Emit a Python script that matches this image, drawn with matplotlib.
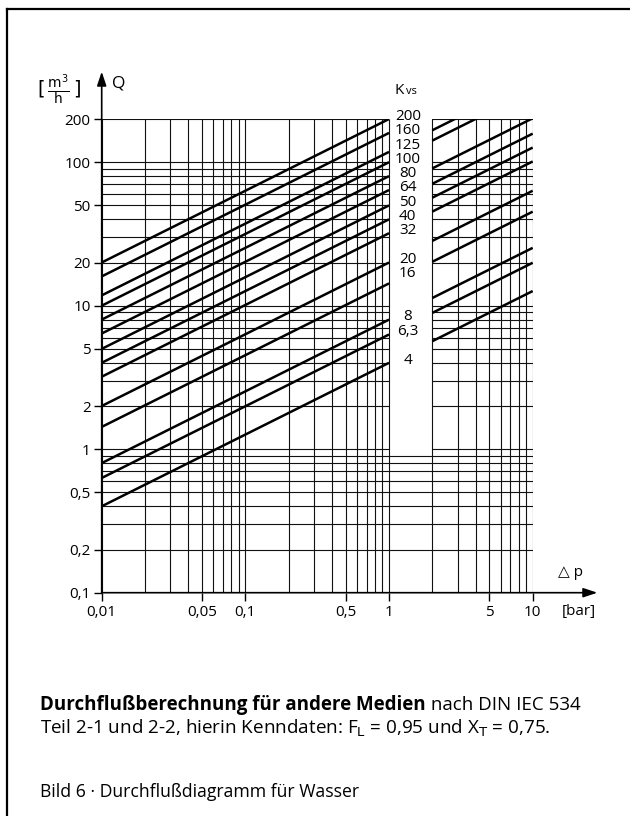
import numpy as np
import matplotlib
matplotlib.use("Agg")
import matplotlib.pyplot as plt
from matplotlib.patches import Rectangle
from matplotlib.lines import Line2D

plt.rcParams['font.family'] = ['Open Sans', 'DejaVu Sans']

# Kvs-Kennlinien (Q = Kvs * sqrt(dp)), Beschriftung und gezeichneter Wert
kvs_labels = ["200", "160", "125", "100", "80", "64", "50", "40", "32", "20", "16", "8", "6,3", "4"]
kvs_nominal = [200, 160, 125, 100, 80, 64, 50, 40, 32, 20, 16, 8, 6.3, 4]
kvs_left = [200, 160, 118, 100, 80, 64, 50, 40, 32, 20, 14.3, 8, 6.3, 4]
kvs_right = [118, 100, 64, 50, 40, 32, 20, 14.3, 8, 6.3, 4]
dp_left = [0.01, 1]
dp_right = [2, 10]

x_ticks = [0.01, 0.05, 0.1, 0.5, 1, 5, 10]
x_ticklabels = ["0,01", "0,05", "0,1", "0,5", "1", "5", "10"]
y_ticks = [0.1, 0.2, 0.5, 1, 2, 5, 10, 20, 50, 100, 200]
y_ticklabels = ["0,1", "0,2", "0,5", "1", "2", "5", "10", "20", "50", "100", "200"]

fig = plt.figure(figsize=(6.3, 8.16), dpi=100)
ax = fig.add_axes([101.7 / 630, 1 - 592.7 / 816, 431 / 630, 473.7 / 816])
ax.set_xscale("log")
ax.set_yscale("log")
ax.set_xlim(0.01, 10)
ax.set_ylim(0.1, 200)
for s in ax.spines.values():
    s.set_visible(False)

# Raster
xgrid = [m * 10.0**e for e in (-2, -1, 0) for m in range(1, 10)] + [10]
ygrid = [m * 10.0**e for e in (-1, 0, 1) for m in range(1, 10)] + [100, 200]
ax.hlines(ygrid, 0.01, 10, color="#111111", lw=0.8, zorder=1)
ax.add_patch(Rectangle((1, 0.92), 1, 210, facecolor="white", edgecolor="none",
                       zorder=2, clip_on=False))
ax.vlines(xgrid, 0.1, 200, color="#111111", lw=0.8, zorder=3)

# Kennlinien
for k in kvs_left:
    dp = np.array(dp_left)
    ax.plot(dp, k * np.sqrt(dp), color="black", lw=1.8, zorder=4,
            solid_capstyle="butt")
for k in kvs_right:
    dp = np.array(dp_right)
    ax.plot(dp, k * np.sqrt(dp), color="black", lw=1.8, zorder=4,
            solid_capstyle="butt")

for lab, k in zip(kvs_labels, kvs_nominal):
    ax.annotate(lab, xy=(1.35, k), xytext=(0, 2), textcoords="offset points",
                ha="center", va="center", fontsize=11, zorder=5)

# Achsen
ax.set_xticks(x_ticks)
ax.set_xticklabels(x_ticklabels)
ax.set_yticks(y_ticks)
ax.set_yticklabels(y_ticklabels)
ax.minorticks_off()
ax.tick_params(axis="both", length=6, width=1, color="black", labelsize=11, pad=2)
ax.tick_params(axis="x", pad=3)

ax.annotate("", xy=(0, 1.10), xytext=(0, 0), xycoords="axes fraction",
            arrowprops=dict(arrowstyle="-|>,head_length=0.6,head_width=0.2", lw=1.2,
                            color="black", mutation_scale=14, shrinkA=0, shrinkB=0))
ax.annotate("", xy=(1.15, 0), xytext=(0, 0), xycoords="axes fraction",
            arrowprops=dict(arrowstyle="-|>,head_length=0.6,head_width=0.2", lw=1.2,
                            color="black", mutation_scale=14, shrinkA=0, shrinkB=0))

fig.text(112 / 630, 1 - 84 / 816, "Q", fontsize=12.5, va="center", ha="left")
fig.text(59 / 630, 1 - 90 / 816, r"$[\,\frac{\mathrm{m^3}}{\mathrm{h}}\,]$",
         fontsize=14, va="center", ha="center")
fig.text(395 / 630, 1 - 90 / 816, r"K", fontsize=11, va="center", ha="left")
fig.text(406 / 630, 1 - 92 / 816, r"vs", fontsize=8, va="center", ha="left")
fig.text(558 / 630, 1 - 573 / 816, "\u25b3 p", fontsize=11, va="center", ha="left")
fig.text(562 / 630, 1 - 612 / 816, "[bar]", fontsize=11, va="center", ha="left")

# Rahmen
fig.add_artist(Line2D([7 / 630, 7 / 630], [0, 1 - 9 / 816], color="black", lw=1.6))
fig.add_artist(Line2D([7 / 630, 1], [1 - 9 / 816, 1 - 9 / 816], color="black", lw=1.6))

# Texte unten
t1 = fig.text(40 / 630, 1 - 705 / 816, "Durchflußberechnung für andere Medien",
              fontsize=13.5, fontweight="bold", va="center", ha="left")
ax.annotate(" nach DIN IEC 534", xy=(1, 0.5), xycoords=t1, va="center", ha="left",
            fontsize=13.5, annotation_clip=False)
fig.text(40 / 630, 1 - 728 / 816,
         r"Teil 2-1 und 2-2, hierin Kenndaten: F$_\mathrm{L}$ = 0,95 und X$_\mathrm{T}$ = 0,75.",
         fontsize=13.6, va="center", ha="left")
fig.text(40 / 630, 1 - 792 / 816, "Bild 6 · Durchflußdiagramm für Wasser",
         fontsize=12.7, va="center", ha="left")

fig.savefig("out.png", dpi=100)
